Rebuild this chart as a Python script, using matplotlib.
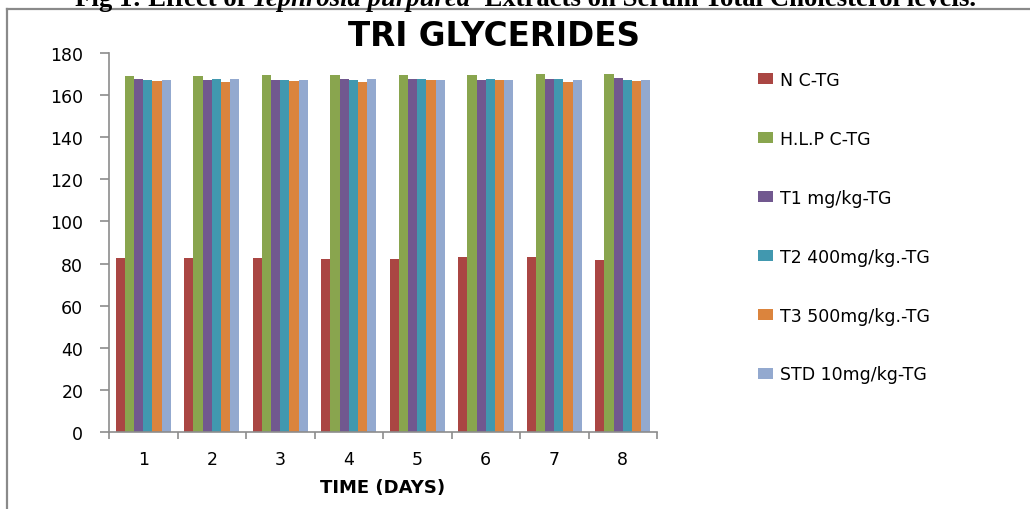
import numpy as np
import matplotlib
matplotlib.use("Agg")
import matplotlib.pyplot as plt
from matplotlib.lines import Line2D

# data
days = ["1", "2", "3", "4", "5", "6", "7", "8"]
series_names = ["N C-TG", "H.L.P C-TG", "T1 mg/kg-TG", "T2 400mg/kg.-TG",
                "T3 500mg/kg.-TG", "STD 10mg/kg-TG"]
n_c = [82.5, 82.5, 82.5, 82.0, 82.1, 82.9, 82.9, 81.7]
hlp_c = [168.9, 168.9, 169.4, 169.4, 169.4, 169.4, 169.9, 169.9]
t1 = [167.8, 167.3, 167.3, 167.8, 167.8, 167.3, 167.8, 168.1]
t2 = [167.3, 167.8, 167.3, 167.3, 167.8, 167.8, 167.8, 167.3]
t3 = [166.5, 166.2, 166.5, 166.3, 167.0, 167.0, 166.2, 166.5]
std = [167.3, 167.8, 167.3, 167.8, 167.3, 167.3, 167.3, 167.3]
series = [n_c, hlp_c, t1, t2, t3, std]
colors = ["#AA4643", "#89A54E", "#71588F", "#4198AF", "#DB843D", "#93A9CF"]

W, H = 1030, 510
fig = plt.figure(figsize=(W / 100, H / 100), dpi=100)
ax = fig.add_axes([109 / W, 1 - 433 / H, (657 - 109) / W, (433 - 54) / H])

x = np.arange(len(days))
bw = 0.8 / len(series)
for i, (vals, name, c) in enumerate(zip(series, series_names, colors)):
    ax.bar(x + (i - 2.5) * bw, vals, bw, color=c, label=name, linewidth=0)

ax.set_xlim(-0.5, len(days) - 0.5)
ax.set_ylim(0, 180)
ax.set_yticks(np.arange(0, 181, 20))
ax.set_xticks(x)
ax.set_xticklabels(days)
ax.set_xticks(np.arange(-0.5, len(days), 1), minor=True)

grey = "#8C8C8C"
for s in ["top", "right"]:
    ax.spines[s].set_visible(False)
for s in ["left", "bottom"]:
    ax.spines[s].set_color(grey)
    ax.spines[s].set_linewidth(1.2)
ax.tick_params(axis="y", direction="out", length=6.5, width=1.2, color=grey,
               pad=12, labelsize=12.5, labelcolor="black")
ax.tick_params(axis="x", which="major", length=0, pad=13, labelsize=12.5)
ax.tick_params(axis="x", which="minor", direction="out", length=5, width=1.2, color=grey)

ax.set_xlabel("TIME (DAYS)", fontsize=13, fontweight="bold", labelpad=7)

fig.text(494 / W, 1 - 46.5 / H, "TRI GLYCERIDES", fontweight="bold",
         fontsize=23.5, ha="center", va="baseline")

leg = ax.legend(loc="upper left", bbox_to_anchor=(742 / W, 1 - 56 / H),
                bbox_transform=fig.transFigure, frameon=False, fontsize=12.5,
                handlelength=0.9, handleheight=0.65, handletextpad=0.4,
                labelspacing=2.36)

# border of the chart area (cut off at right and bottom)
fig.add_artist(Line2D([7 / W, 1], [1 - 9.5 / H, 1 - 9.5 / H], color="#8A8A8A", lw=1.6,
                      transform=fig.transFigure))
fig.add_artist(Line2D([7 / W, 7 / W], [1 - 9.5 / H, 0], color="#8A8A8A", lw=1.6,
                      transform=fig.transFigure))

# caption above the chart, partly cut off at the top
parts = [("Fig 1: Effect of ", "normal"), ("Tephrosia purpurea", "italic"),
         ("  Extracts on Serum Total Cholesterol levels.", "normal")]
renderer = fig.canvas.get_renderer()
xpos = 75
for txt, style in parts:
    t = fig.text(xpos / W, 1 - 6 / H, txt, family="Liberation Serif", fontweight="bold",
                 style=style, fontsize=19.3, ha="left", va="baseline")
    xpos += t.get_window_extent(renderer).width

fig.savefig("out.png", dpi=100)
